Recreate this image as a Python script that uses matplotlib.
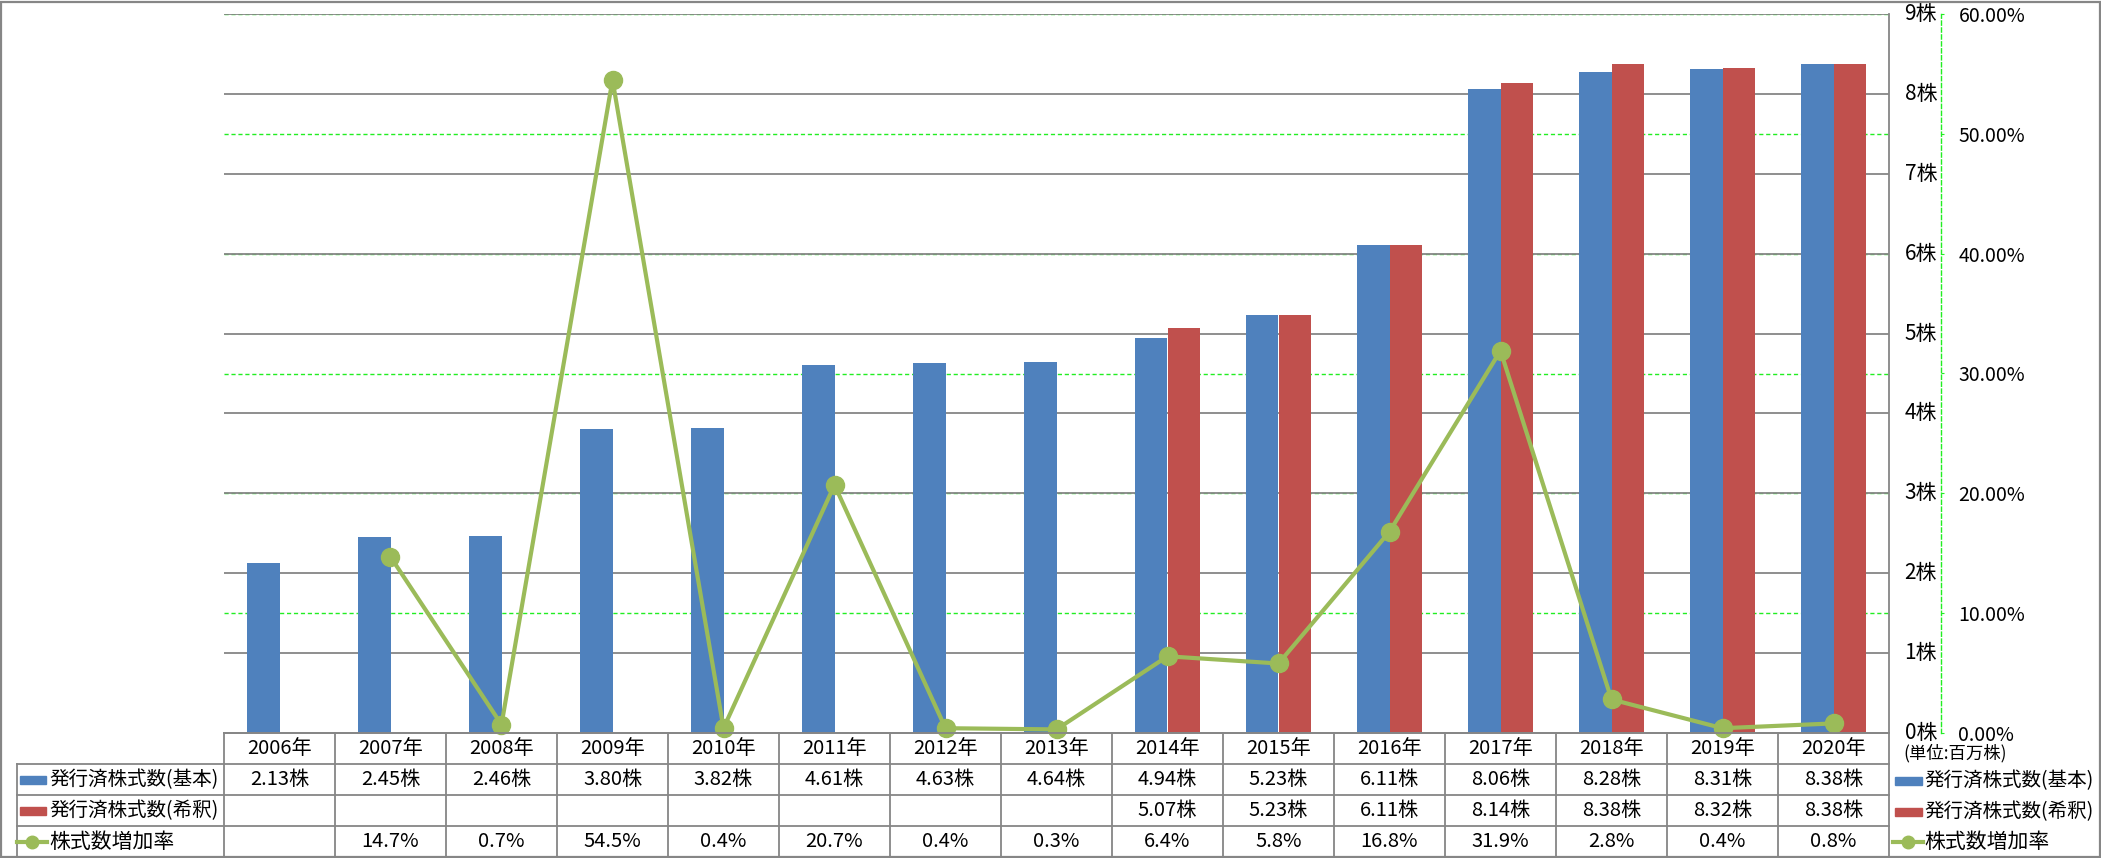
import numpy as np
import matplotlib
matplotlib.use("Agg")
import matplotlib.pyplot as plt
import matplotlib.transforms as mtransforms
from matplotlib.patches import Rectangle
from matplotlib.lines import Line2D

plt.rcParams['font.family'] = ['Noto Sans CJK JP', 'DejaVu Sans']

# --- data ---
years = ["2006年", "2007年", "2008年", "2009年", "2010年", "2011年", "2012年", "2013年",
         "2014年", "2015年", "2016年", "2017年", "2018年", "2019年", "2020年"]
basic = [2.13, 2.45, 2.46, 3.80, 3.82, 4.61, 4.63, 4.64, 4.94, 5.23, 6.11, 8.06, 8.28, 8.31, 8.38]
diluted = [None] * 8 + [5.07, 5.23, 6.11, 8.14, 8.38, 8.32, 8.38]
growth = [None, 14.7, 0.7, 54.5, 0.4, 20.7, 0.4, 0.3, 6.4, 5.8, 16.8, 31.9, 2.8, 0.4, 0.8]
series_names = ["発行済株式数(基本)", "発行済株式数(希釈)", "株式数増加率"]
unit_label = "(単位:百万株)"
share_ticks = list(range(0, 10))
pct_ticks = [0, 0.1, 0.2, 0.3, 0.4, 0.5, 0.6]

BLUE = "#4F81BD"
RED = "#C0504D"
GREEN = "#9BBB59"
GRID = "#868686"
LIME = "#22EE22"
FS = 14.5      # numbers / years
FSN = 15       # series names (shrunk to fit if needed)

W, H = 2101, 858
L, R, T, B = 224, 1889, 14, 733
TB = 857
COLW = (R - L) / len(years)


def fx(px):
    return px / W


def fy(py):
    return 1 - py / H


fig = plt.figure(figsize=(W / 100, H / 100), dpi=100)
renderer = fig.canvas.get_renderer()


def fit(txt, max_px):
    # shrink a text until its width fits max_px
    w = txt.get_window_extent(renderer).width
    if w > max_px:
        txt.set_fontsize(txt.get_fontsize() * max_px / w)


fig.patches.append(Rectangle((0.0005, 0.001), 0.999, 0.997, transform=fig.transFigure,
                             fill=False, ec=GRID, lw=1.6))

ax = fig.add_axes([fx(L), fy(B), (R - L) / W, (B - T) / H])
x = np.arange(len(years))
ax.set_xlim(-0.5, len(years) - 0.5)
ax.set_ylim(0, 9)

# gridlines: green dashed (secondary) beneath gray solid (primary)
for p in pct_ticks[1:]:
    ax.axhline(p * 9 / 0.6, color=LIME, lw=1.0, ls=(0, (3, 2)), zorder=0.8)
for s in share_ticks[1:]:
    ax.axhline(s, color=GRID, lw=1.3, zorder=1)

bw = 0.29
ax.bar(x - bw / 2, basic, width=bw, color=BLUE, zorder=2)
dx = [i for i, v in enumerate(diluted) if v is not None]
ax.bar(np.array(dx) + bw / 2, [diluted[i] for i in dx], width=bw, color=RED, zorder=2)

for s in ["top", "left"]:
    ax.spines[s].set_visible(False)
ax.spines["bottom"].set_color(GRID)
ax.spines["bottom"].set_linewidth(1.3)
ax.spines["right"].set_color(GRID)
ax.spines["right"].set_linewidth(1.3)
ax.set_xticks([])
ax.set_yticks([])

# primary labels placed right of plot area
trans = mtransforms.blended_transform_factory(fig.transFigure, ax.transData)
for s in share_ticks:
    ax.text(fx(1937), s, f"{s}株", transform=trans, ha="right", va="center", fontsize=15)

# secondary axis
ax2 = ax.twinx()
ax2.set_ylim(0, 0.6)
for s in ["top", "left", "bottom"]:
    ax2.spines[s].set_visible(False)
ax2.spines["right"].set_position(("outward", 37.5))
ax2.spines["right"].set_color(LIME)
ax2.spines["right"].set_linestyle((0, (3, 2)))
ax2.spines["right"].set_linewidth(1.0)
ax2.set_yticks(pct_ticks)
ax2.set_yticklabels([f"{p * 100:.2f}%" for p in pct_ticks])
ax2.tick_params(axis="y", direction="out", length=2.5, color=LIME, pad=10, labelsize=14)

gx = [i for i, v in enumerate(growth) if v is not None]
ax2.plot(gx, [growth[i] / 100 for i in gx], color=GREEN, lw=3, marker="o", ms=13,
         zorder=3, clip_on=False)

fig.text(fx(1903), fy(753), unit_label, ha="left", va="center", fontsize=12.5)

# --- data table ---
tab = fig.add_axes([fx(L), fy(TB), (R - L) / W, (TB - B) / H])
tab.set_xlim(-0.5, len(years) - 0.5)
tab.set_ylim(4, 0)
tab.axis("off")


def xd(px):
    return -0.5 + (px - L) / COLW


lk = dict(color=GRID, lw=1.3, clip_on=False)
tab.plot([-0.5, len(years) - 0.5], [0, 0], **lk)
for r in [1, 2, 3, 4]:
    tab.plot([xd(17), len(years) - 0.5], [r, r], **lk)
for c in range(len(years) + 1):
    tab.plot([c - 0.5, c - 0.5], [0, 4], **lk)
tab.plot([xd(17), xd(17)], [1, 4], **lk)

for i, yr in enumerate(years):
    tab.text(i, 0.5, yr, ha="center", va="center", fontsize=FS)
    tab.text(i, 1.5, f"{basic[i]:.2f}株", ha="center", va="center", fontsize=FS)
    if diluted[i] is not None:
        tab.text(i, 2.5, f"{diluted[i]:.2f}株", ha="center", va="center", fontsize=FS)
    if growth[i] is not None:
        tab.text(i, 3.5, f"{growth[i]:.1f}%", ha="center", va="center", fontsize=FS)

kh = 8 / 31
for r, (name, col) in enumerate(zip(series_names[:2], [BLUE, RED])):
    tab.add_patch(Rectangle((xd(20), r + 1.5 - kh / 2), xd(46) - xd(20), kh, color=col,
                            clip_on=False))
    t = tab.text(xd(49), r + 1.5, name, ha="left", va="center", fontsize=FSN, clip_on=False)
    fit(t, 170)
tab.plot([xd(17), xd(47)], [3.5, 3.5], color=GREEN, lw=3, clip_on=False)
tab.plot([xd(32)], [3.5], marker="o", ms=9, color=GREEN, clip_on=False)
t = tab.text(xd(49), 3.5, series_names[2], ha="left", va="center", fontsize=FSN, clip_on=False)
fit(t, 170)

# right-hand legend aligned with table rows
row_y = [780.5, 811.5, 842]
for r, col in enumerate([BLUE, RED]):
    fig.patches.append(Rectangle((fx(1895), fy(row_y[r] + 4)), (1922 - 1895) / W, 8 / H,
                                 transform=fig.transFigure, color=col))
    t = fig.text(fx(1924), fy(row_y[r]), series_names[r], ha="left", va="center", fontsize=FSN)
    fit(t, 170)
fig.lines.append(Line2D([fx(1893), fx(1923)], [fy(row_y[2])] * 2, transform=fig.transFigure,
                        color=GREEN, lw=3))
fig.lines.append(Line2D([fx(1908)], [fy(row_y[2])], transform=fig.transFigure,
                        color=GREEN, marker="o", ms=9))
t = fig.text(fx(1924), fy(row_y[2]), series_names[2], ha="left", va="center", fontsize=FSN)
fit(t, 170)

fig.savefig("out.png", dpi=100)
